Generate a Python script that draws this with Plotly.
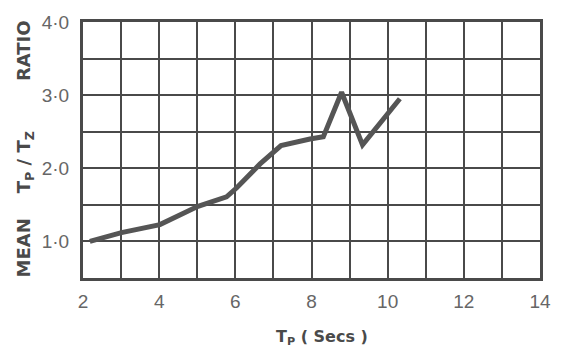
import plotly.graph_objects as go

tp_secs = [2.18, 3.01, 4.02, 5.02, 5.77, 6.03, 6.65, 7.2, 7.96, 8.31, 8.79, 9.34, 10.32]
mean_ratio = [1.0, 1.12, 1.23, 1.48, 1.61, 1.73, 2.06, 2.31, 2.4, 2.43, 3.04, 2.32, 2.95]

x_ticks = [2, 4, 6, 8, 10, 12, 14]
x_tick_labels = ["2", "4", "6", "8", "10", "12", "14"]
y_ticks = [1, 2, 3, 4]
y_tick_labels = ["1·0", "2·0", "3·0", "4·0"]

grid_color = "#4a4a4a"

W, H = 569, 353
l, r, t, b = 83, 29, 15, 75
pw, ph = W - l - r, H - t - b

fig = go.Figure()
fig.add_trace(go.Scatter(
    x=tp_secs, y=mean_ratio, mode="lines",
    line=dict(color="#555555", width=5),
    showlegend=False, hoverinfo="skip",
))

fig.update_layout(
    width=W, height=H,
    margin=dict(l=l, r=r, t=t, b=b),
    paper_bgcolor="white", plot_bgcolor="white",
    font=dict(family="Liberation Sans, Arial, sans-serif", color="#666666", size=19),
)
fig.update_xaxes(
    range=[2, 14], tickvals=x_ticks, ticktext=x_tick_labels,
    showgrid=True, gridcolor=grid_color, gridwidth=2,
    minor=dict(dtick=1, showgrid=True, gridcolor=grid_color, gridwidth=2),
    showline=True, linecolor=grid_color, linewidth=3, mirror=True,
    ticks="", zeroline=False, ticklabelstandoff=4,
)
fig.update_yaxes(
    range=[0.5, 4.0], tickvals=y_ticks, ticktext=y_tick_labels,
    showgrid=True, gridcolor=grid_color, gridwidth=2,
    minor=dict(dtick=0.5, tick0=0.5, showgrid=True, gridcolor=grid_color, gridwidth=2),
    showline=True, linecolor=grid_color, linewidth=3, mirror=True,
    ticks="", zeroline=False, ticklabelstandoff=7,
)

def px_to_paper(px, py):
    return (px - l) / pw, 1 - (py - t) / ph

ax_, ay_ = px_to_paper(25, 146)
fig.add_annotation(
    x=ax_, y=ay_, xref="paper", yref="paper", showarrow=False,
    xanchor="center", yanchor="middle",
    text="<b>MEAN    T<sub>P</sub> / T<sub>Z</sub>        RATIO</b>", textangle=-90,
    font=dict(family="DejaVu Sans, sans-serif", size=18, color="#4a4a4a"),
)
bx_, by_ = px_to_paper(322, 339)
fig.add_annotation(
    x=bx_, y=by_, xref="paper", yref="paper", showarrow=False,
    xanchor="center", yanchor="middle",
    text="<b>T<sub>P</sub> ( Secs )</b>",
    font=dict(family="DejaVu Sans, sans-serif", size=16, color="#4a4a4a"),
)

fig.write_html("out.html", config={"displayModeBar": False, "staticPlot": True})
with open("out.html", "r", encoding="utf-8") as f:
    html = f.read()
html = html.replace("<body>", '<body style="margin:0;padding:0">', 1)
with open("out.html", "w", encoding="utf-8") as f:
    f.write(html)
